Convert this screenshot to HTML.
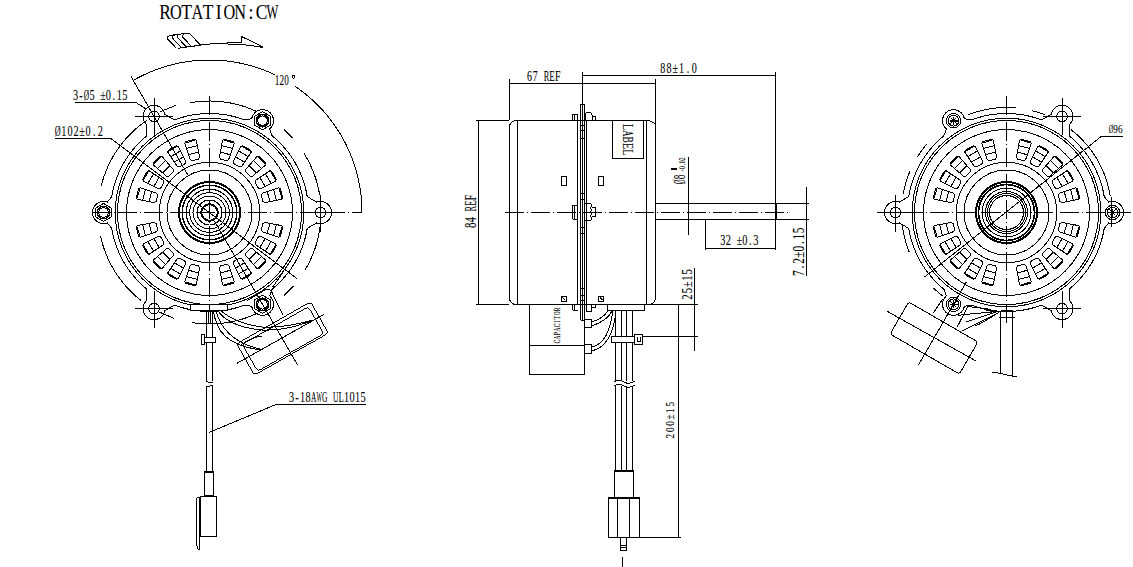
<!DOCTYPE html>
<html><head><meta charset="utf-8"><style>
html,body{margin:0;padding:0;background:#fff;}
svg{display:block;}
</style></head><body>
<svg width="1133" height="567" viewBox="0 0 1133 567">
<rect width="1133" height="567" fill="#fff"/>
<g fill="none" stroke="#000" stroke-width="1" shape-rendering="crispEdges">
<circle cx="209.5" cy="212.5" r="8.3" stroke-width="2"/>
<circle cx="209.5" cy="212.5" r="12.5"/>
<circle cx="209.5" cy="212.5" r="16.5"/>
<circle cx="209.5" cy="212.5" r="19.8"/>
<circle cx="209.5" cy="212.5" r="23.3"/>
<circle cx="209.5" cy="212.5" r="27.3" stroke-width="1.5"/>
<circle cx="209.5" cy="212.5" r="30.5" stroke-width="2"/>
<circle cx="209.5" cy="212.5" r="42.5"/>
<circle cx="209.5" cy="212.5" r="50.2"/>
<circle cx="209.5" cy="212.5" r="83"/>
<circle cx="209.5" cy="212.5" r="92"/>
<circle cx="209.5" cy="212.5" r="94.3"/>
<path d="M220.42 159 L219.36 157.17 L222.6 140.43 L224.44 139.37 L233.13 141.7 L234.19 143.54 L228.63 159.65 L226.79 160.71 Z"/>
<line x1="223.89" y1="140.26" x2="233.16" y2="142.75"/>
<line x1="220.31" y1="152.07" x2="230.35" y2="154.76"/>
<line x1="221.65" y1="145.53" x2="232.47" y2="148.43"/>
<path d="M233.89 163.65 L233.34 161.6 L240.8 146.28 L242.85 145.73 L250.65 150.23 L251.2 152.28 L241.66 166.4 L239.61 166.95 Z"/>
<line x1="242.09" y1="146.45" x2="250.41" y2="151.25"/>
<line x1="235.58" y1="156.93" x2="244.59" y2="162.13"/>
<line x1="238.57" y1="150.95" x2="248.27" y2="156.55"/>
<path d="M245.7 171.63 L245.7 169.51 L256.88 156.64 L259 156.64 L265.36 163 L265.36 165.12 L252.49 176.3 L250.37 176.3 Z"/>
<line x1="258.08" y1="157.13" x2="264.87" y2="163.92"/>
<line x1="249.07" y1="165.57" x2="256.43" y2="172.93"/>
<line x1="253.51" y1="160.57" x2="261.43" y2="168.49"/>
<path d="M255.05 182.39 L255.6 180.34 L269.72 170.8 L271.77 171.35 L276.27 179.15 L275.72 181.2 L260.4 188.66 L258.35 188.11 Z"/>
<line x1="270.75" y1="171.59" x2="275.55" y2="179.91"/>
<line x1="259.87" y1="177.41" x2="265.07" y2="186.42"/>
<line x1="265.45" y1="173.73" x2="271.05" y2="183.43"/>
<path d="M261.29 195.21 L262.35 193.37 L278.46 187.81 L280.3 188.87 L282.63 197.56 L281.57 199.4 L264.83 202.64 L263 201.58 Z"/>
<line x1="279.25" y1="188.84" x2="281.74" y2="198.11"/>
<line x1="267.24" y1="191.65" x2="269.93" y2="201.69"/>
<line x1="273.57" y1="189.53" x2="276.47" y2="200.35"/>
<path d="M263 223.42 L264.83 222.36 L281.57 225.6 L282.63 227.44 L280.3 236.13 L278.46 237.19 L262.35 231.63 L261.29 229.79 Z"/>
<line x1="281.74" y1="226.89" x2="279.25" y2="236.16"/>
<line x1="269.93" y1="223.31" x2="267.24" y2="233.35"/>
<line x1="276.47" y1="224.65" x2="273.57" y2="235.47"/>
<path d="M258.35 236.89 L260.4 236.34 L275.72 243.8 L276.27 245.85 L271.77 253.65 L269.72 254.2 L255.6 244.66 L255.05 242.61 Z"/>
<line x1="275.55" y1="245.09" x2="270.75" y2="253.41"/>
<line x1="265.07" y1="238.58" x2="259.87" y2="247.59"/>
<line x1="271.05" y1="241.57" x2="265.45" y2="251.27"/>
<path d="M250.37 248.7 L252.49 248.7 L265.36 259.88 L265.36 262 L259 268.36 L256.88 268.36 L245.7 255.49 L245.7 253.37 Z"/>
<line x1="264.87" y1="261.08" x2="258.08" y2="267.87"/>
<line x1="256.43" y1="252.07" x2="249.07" y2="259.43"/>
<line x1="261.43" y1="256.51" x2="253.51" y2="264.43"/>
<path d="M239.61 258.05 L241.66 258.6 L251.2 272.72 L250.65 274.77 L242.85 279.27 L240.8 278.72 L233.34 263.4 L233.89 261.35 Z"/>
<line x1="250.41" y1="273.75" x2="242.09" y2="278.55"/>
<line x1="244.59" y1="262.87" x2="235.58" y2="268.07"/>
<line x1="248.27" y1="268.45" x2="238.57" y2="274.05"/>
<path d="M226.79 264.29 L228.63 265.35 L234.19 281.46 L233.13 283.3 L224.44 285.63 L222.6 284.57 L219.36 267.83 L220.42 266 Z"/>
<line x1="233.16" y1="282.25" x2="223.89" y2="284.74"/>
<line x1="230.35" y1="270.24" x2="220.31" y2="272.93"/>
<line x1="232.47" y1="276.57" x2="221.65" y2="279.47"/>
<path d="M198.58 266 L199.64 267.83 L196.4 284.57 L194.56 285.63 L185.87 283.3 L184.81 281.46 L190.37 265.35 L192.21 264.29 Z"/>
<line x1="195.11" y1="284.74" x2="185.84" y2="282.25"/>
<line x1="198.69" y1="272.93" x2="188.65" y2="270.24"/>
<line x1="197.35" y1="279.47" x2="186.53" y2="276.57"/>
<path d="M185.11 261.35 L185.66 263.4 L178.2 278.72 L176.15 279.27 L168.35 274.77 L167.8 272.72 L177.34 258.6 L179.39 258.05 Z"/>
<line x1="176.91" y1="278.55" x2="168.59" y2="273.75"/>
<line x1="183.42" y1="268.07" x2="174.41" y2="262.87"/>
<line x1="180.43" y1="274.05" x2="170.73" y2="268.45"/>
<path d="M173.3 253.37 L173.3 255.49 L162.12 268.36 L160 268.36 L153.64 262 L153.64 259.88 L166.51 248.7 L168.63 248.7 Z"/>
<line x1="160.92" y1="267.87" x2="154.13" y2="261.08"/>
<line x1="169.93" y1="259.43" x2="162.57" y2="252.07"/>
<line x1="165.49" y1="264.43" x2="157.57" y2="256.51"/>
<path d="M163.95 242.61 L163.4 244.66 L149.28 254.2 L147.23 253.65 L142.73 245.85 L143.28 243.8 L158.6 236.34 L160.65 236.89 Z"/>
<line x1="148.25" y1="253.41" x2="143.45" y2="245.09"/>
<line x1="159.13" y1="247.59" x2="153.93" y2="238.58"/>
<line x1="153.55" y1="251.27" x2="147.95" y2="241.57"/>
<path d="M157.71 229.79 L156.65 231.63 L140.54 237.19 L138.7 236.13 L136.37 227.44 L137.43 225.6 L154.17 222.36 L156 223.42 Z"/>
<line x1="139.75" y1="236.16" x2="137.26" y2="226.89"/>
<line x1="151.76" y1="233.35" x2="149.07" y2="223.31"/>
<line x1="145.43" y1="235.47" x2="142.53" y2="224.65"/>
<path d="M156 201.58 L154.17 202.64 L137.43 199.4 L136.37 197.56 L138.7 188.87 L140.54 187.81 L156.65 193.37 L157.71 195.21 Z"/>
<line x1="137.26" y1="198.11" x2="139.75" y2="188.84"/>
<line x1="149.07" y1="201.69" x2="151.76" y2="191.65"/>
<line x1="142.53" y1="200.35" x2="145.43" y2="189.53"/>
<path d="M160.65 188.11 L158.6 188.66 L143.28 181.2 L142.73 179.15 L147.23 171.35 L149.28 170.8 L163.4 180.34 L163.95 182.39 Z"/>
<line x1="143.45" y1="179.91" x2="148.25" y2="171.59"/>
<line x1="153.93" y1="186.42" x2="159.13" y2="177.41"/>
<line x1="147.95" y1="183.43" x2="153.55" y2="173.73"/>
<path d="M168.63 176.3 L166.51 176.3 L153.64 165.12 L153.64 163 L160 156.64 L162.12 156.64 L173.3 169.51 L173.3 171.63 Z"/>
<line x1="154.13" y1="163.92" x2="160.92" y2="157.13"/>
<line x1="162.57" y1="172.93" x2="169.93" y2="165.57"/>
<line x1="157.57" y1="168.49" x2="165.49" y2="160.57"/>
<path d="M179.39 166.95 L177.34 166.4 L167.8 152.28 L168.35 150.23 L176.15 145.73 L178.2 146.28 L185.66 161.6 L185.11 163.65 Z"/>
<line x1="168.59" y1="151.25" x2="176.91" y2="146.45"/>
<line x1="174.41" y1="162.13" x2="183.42" y2="156.93"/>
<line x1="170.73" y1="156.55" x2="180.43" y2="150.95"/>
<path d="M192.21 160.71 L190.37 159.65 L184.81 143.54 L185.87 141.7 L194.56 139.37 L196.4 140.43 L199.64 157.17 L198.58 159 Z"/>
<line x1="185.84" y1="142.75" x2="195.11" y2="140.26"/>
<line x1="188.65" y1="154.76" x2="198.69" y2="152.07"/>
<line x1="186.53" y1="148.43" x2="197.35" y2="145.53"/>
<circle cx="154" cy="116.37" r="5.3"/>
<circle cx="320.5" cy="212.5" r="5.3"/>
<circle cx="154" cy="308.63" r="5.3"/>
<path d="M262.5 111.7 L270.29 116.2 L270.29 125.2 L262.5 129.7 L254.71 125.2 L254.71 116.2 Z"/>
<circle cx="262.5" cy="120.7" r="6.2" stroke-width="1.5"/>
<circle cx="262.5" cy="120.7" r="4.8"/>
<path d="M262.5 295.3 L270.29 299.8 L270.29 308.8 L262.5 313.3 L254.71 308.8 L254.71 299.8 Z"/>
<circle cx="262.5" cy="304.3" r="6.2" stroke-width="1.5"/>
<circle cx="262.5" cy="304.3" r="4.8"/>
<path d="M103.5 203.5 L111.29 208 L111.29 217 L103.5 221.5 L95.71 217 L95.71 208 Z"/>
<circle cx="103.5" cy="212.5" r="6.2" stroke-width="1.5"/>
<circle cx="103.5" cy="212.5" r="4.8"/>
<path d="M174.44 119.92 L177.81 118.71 L181.23 117.62 L184.68 116.66 L188.17 115.83 L191.68 115.12 L195.22 114.54 L198.77 114.08 L202.34 113.76 L205.92 113.56 L209.5 113.5 L213.08 113.56 L216.66 113.76 L220.23 114.08 L223.78 114.54 L227.32 115.12 L230.83 115.83 L234.32 116.66 L237.77 117.62 L241.19 118.71 L244.56 119.92"/>
<path d="M146.85 135.85 L146.93 124.8 L145.68 123.56 L144.64 122.15 L143.84 120.58 L143.3 118.91 L143.03 117.17 L143.04 115.41 L143.33 113.68 L143.9 112.01 L144.72 110.46 L145.78 109.06 L147.05 107.84 L148.5 106.84 L150.09 106.09 L151.78 105.6 L153.52 105.38 L155.28 105.45 L157 105.79 L158.65 106.4 L160.18 107.27 L161.55 108.37 L162.73 109.67 L163.68 111.15 L164.39 112.76 L164.83 114.46 L174.44 119.92"/>
<path d="M272.15 135.85 L274.88 138.16 L277.53 140.58 L280.09 143.09 L282.56 145.69 L284.93 148.38 L287.2 151.15 L289.37 154 L291.43 156.93 L293.39 159.93 L295.24 163 L296.97 166.14 L298.59 169.33 L300.1 172.58 L301.48 175.89 L302.75 179.24 L303.89 182.64 L304.91 186.07 L305.8 189.54 L306.57 193.04 L307.21 196.57"/>
<path d="M244.56 119.92 L251.67 118.79 L252.11 117.09 L252.82 115.48 L253.77 114 L254.95 112.7 L256.32 111.6 L257.85 110.73 L259.5 110.12 L261.22 109.78 L262.98 109.71 L264.72 109.93 L266.41 110.42 L268 111.18 L269.45 112.17 L270.72 113.39 L271.78 114.79 L272.6 116.34 L273.17 118.01 L273.46 119.74 L273.47 121.5 L273.2 123.24 L272.66 124.91 L271.86 126.48 L270.82 127.89 L269.57 129.13 L272.15 135.85"/>
<path d="M307.21 228.43 L306.57 231.96 L305.8 235.46 L304.91 238.93 L303.89 242.36 L302.75 245.76 L301.48 249.11 L300.1 252.42 L298.59 255.67 L296.97 258.86 L295.24 262 L293.39 265.07 L291.43 268.07 L289.37 271 L287.2 273.85 L284.93 276.62 L282.56 279.31 L280.09 281.91 L277.53 284.42 L274.88 286.84 L272.15 289.15"/>
<path d="M307.21 196.57 L316.74 202.16 L318.43 201.7 L320.18 201.5 L321.94 201.59 L323.65 201.96 L325.29 202.6 L326.81 203.49 L328.16 204.61 L329.32 205.93 L330.26 207.42 L330.94 209.04 L331.36 210.75 L331.5 212.5 L331.36 214.25 L330.94 215.96 L330.26 217.58 L329.32 219.07 L328.16 220.39 L326.81 221.51 L325.29 222.4 L323.65 223.04 L321.94 223.41 L320.18 223.5 L318.43 223.3 L316.74 222.84 L307.21 228.43"/>
<path d="M244.56 305.08 L241.19 306.29 L237.77 307.38 L234.32 308.34 L230.83 309.17 L227.32 309.88 L223.78 310.46 L220.23 310.92 L216.66 311.24 L213.08 311.44 L209.5 311.5 L205.92 311.44 L202.34 311.24 L198.77 310.92 L195.22 310.46 L191.68 309.88 L188.17 309.17 L184.68 308.34 L181.23 307.38 L177.81 306.29 L174.44 305.08"/>
<path d="M272.15 289.15 L269.57 295.87 L270.82 297.11 L271.86 298.52 L272.66 300.09 L273.2 301.76 L273.47 303.5 L273.46 305.26 L273.17 306.99 L272.6 308.66 L271.78 310.21 L270.72 311.61 L269.45 312.83 L268 313.82 L266.41 314.58 L264.72 315.07 L262.98 315.29 L261.22 315.22 L259.5 314.88 L257.85 314.27 L256.32 313.4 L254.95 312.3 L253.77 311 L252.82 309.52 L252.11 307.91 L251.67 306.21 L244.56 305.08"/>
<path d="M146.85 289.15 L144.12 286.84 L141.47 284.42 L138.91 281.91 L136.44 279.31 L134.07 276.62 L131.8 273.85 L129.63 271 L127.57 268.07 L125.61 265.07 L123.76 262 L122.03 258.86 L120.41 255.67 L118.9 252.42 L117.52 249.11 L116.25 245.76 L115.11 242.36 L114.09 238.93 L113.2 235.46 L112.43 231.96 L111.79 228.43"/>
<path d="M174.44 305.08 L164.83 310.54 L164.39 312.24 L163.68 313.85 L162.73 315.33 L161.55 316.63 L160.18 317.73 L158.65 318.6 L157 319.21 L155.28 319.55 L153.52 319.62 L151.78 319.4 L150.09 318.91 L148.5 318.16 L147.05 317.16 L145.78 315.94 L144.72 314.54 L143.9 312.99 L143.33 311.32 L143.04 309.59 L143.03 307.83 L143.3 306.09 L143.84 304.42 L144.64 302.85 L145.68 301.44 L146.93 300.2 L146.85 289.15"/>
<path d="M111.79 196.57 L112.43 193.04 L113.2 189.54 L114.09 186.07 L115.11 182.64 L116.25 179.24 L117.52 175.89 L118.9 172.58 L120.41 169.33 L122.03 166.14 L123.76 163 L125.61 159.93 L127.57 156.93 L129.63 154 L131.8 151.15 L134.07 148.38 L136.44 145.69 L138.91 143.09 L141.47 140.58 L144.12 138.16 L146.85 135.85"/>
<path d="M111.79 228.43 L107.26 222.84 L105.57 223.3 L103.82 223.5 L102.06 223.41 L100.35 223.04 L98.71 222.4 L97.19 221.51 L95.84 220.39 L94.68 219.07 L93.74 217.58 L93.06 215.96 L92.64 214.25 L92.5 212.5 L92.64 210.75 L93.06 209.04 L93.74 207.42 L94.68 205.93 L95.84 204.61 L97.19 203.49 L98.71 202.6 L100.35 201.96 L102.06 201.59 L103.82 201.5 L105.57 201.7 L107.26 202.16 L111.79 196.57"/>
<path d="M190.5 304.5 H227.5 V310.5 H190.5 Z" fill="#fff"/>
<line x1="92" y1="212.5" x2="361" y2="212.5" stroke-dasharray="19 3 1 3"/>
<line x1="209.5" y1="96" x2="209.5" y2="310" stroke-dasharray="19 3 1 3"/>
<path d="M190.14 102.69 L194.1 102.07 L198.07 101.59 L202.06 101.25 L206.07 101.05 L210.07 101 L214.08 101.09 L218.08 101.33 L222.07 101.71 L226.04 102.23 L229.99 102.9 L233.91 103.71 L237.81 104.65 L241.66 105.74 L245.48 106.96 L249.24 108.32 L252.96 109.82 L256.62 111.45"/>
<path d="M284.11 129.64 L286.25 131.62 L288.34 133.66 L290.38 135.75 L292.36 137.89"/>
<path d="M304.06 153.41 L306.15 156.9 L308.11 160.47 L309.95 164.1 L311.65 167.8 L313.21 171.55 L314.63 175.36 L315.92 179.22 L317.06 183.13 L318.06 187.07 L318.92 191.05 L319.63 195.06"/>
<path d="M320.17 226.09 L319.63 229.94 L318.95 233.78 L318.14 237.58 L317.2 241.36 L316.13 245.1 L314.93 248.8 L313.59 252.46 L312.14 256.07 L310.55 259.62 L308.85 263.12 L307.02 266.56 L305.07 269.93"/>
<path d="M293.65 285.65 L291.38 288.19 L289.03 290.65 L286.6 293.04 L284.11 295.36"/>
<path d="M256.62 313.55 L253.07 315.14 L249.46 316.59 L245.8 317.93 L242.1 319.13 L238.36 320.2 L234.58 321.14 L230.78 321.95 L226.94 322.63 L223.09 323.17 L219.22 323.58 L215.34 323.85 L211.45 323.98 L207.55 323.98 L203.66 323.85 L199.78 323.58 L195.91 323.17 L192.06 322.63"/>
<path d="M140.85 300.36 L137.83 297.91 L134.89 295.36 L132.05 292.71 L129.29 289.95 L126.64 287.11 L124.09 284.17 L121.64 281.15 L119.29 278.04 L117.06 274.85 L114.94 271.59 L112.94 268.25 L111.05 264.85 L109.28 261.38 L107.64 257.85 L106.12 254.27 L104.72 250.64 L103.46 246.96 L102.32 243.23 L101.31 239.47 L100.44 235.68"/>
<path d="M101.31 185.53 L102.32 181.77 L103.46 178.04 L104.72 174.36 L106.12 170.73 L107.64 167.15 L109.28 163.62 L111.05 160.15 L112.94 156.75 L114.94 153.41 L117.06 150.15 L119.29 146.96 L121.64 143.85 L124.09 140.83 L126.64 137.89 L129.29 135.05 L132.05 132.29 L134.89 129.64 L137.83 127.09 L140.85 124.64 L143.96 122.29 L147.15 120.06"/>
<line x1="135" y1="116.37" x2="173" y2="116.37"/>
<line x1="154" y1="98.37" x2="154" y2="135.37"/>
<line x1="301.5" y1="212.5" x2="339.5" y2="212.5"/>
<line x1="320.5" y1="194.5" x2="320.5" y2="231.5"/>
<line x1="135" y1="308.63" x2="173" y2="308.63"/>
<line x1="154" y1="290.63" x2="154" y2="327.63"/>
<line x1="160" y1="111.7" x2="176" y2="105.3"/>
<line x1="158.4" y1="311.7" x2="174.4" y2="318.5"/>
<line x1="188.5" y1="176.13" x2="131" y2="76.53"/>
<line x1="214.5" y1="221.16" x2="297.5" y2="364.92"/>
<path d="M133.25 80.43 L138.02 77.79 L142.88 75.32 L147.82 73.03 L152.85 70.91 L157.94 68.98 L163.11 67.23 L168.33 65.66 L173.6 64.29 L178.92 63.1 L184.28 62.1 L189.67 61.29 L195.09 60.68 L200.52 60.26 L205.97 60.04 L211.42 60.01 L216.87 60.18 L222.31 60.54 L227.73 61.09 L233.13 61.84 L238.5 62.78 L243.83 63.92 L249.12 65.24 L254.36 66.75 L259.54 68.44 L264.66 70.32 L269.7 72.39 L274.67 74.63"/>
<path d="M295.22 86.37 L299.71 89.54 L304.09 92.88 L308.34 96.37 L312.46 100.01 L316.45 103.79 L320.3 107.72 L324.01 111.78 L327.57 115.98 L330.97 120.3 L334.22 124.74 L337.3 129.29 L340.22 133.96 L342.97 138.72 L345.54 143.58 L347.94 148.53 L350.15 153.57 L352.19 158.68 L354.03 163.86 L355.69 169.1 L357.16 174.4 L358.44 179.75 L359.53 185.15 L360.42 190.57 L361.11 196.03 L361.6 201.51 L361.9 207 L362 212.5"/>
<line x1="110.9" y1="138.5" x2="296.7" y2="278.4"/>
<line x1="55" y1="138.5" x2="110.9" y2="138.5"/>
<line x1="75" y1="102.5" x2="136" y2="102.5"/>
<line x1="136" y1="102.5" x2="146" y2="109"/>
<line x1="206.5" y1="310.5" x2="206.5" y2="381"/>
<line x1="206.5" y1="386" x2="206.5" y2="471"/>
<line x1="212.5" y1="310.5" x2="212.5" y2="381"/>
<line x1="212.5" y1="386" x2="212.5" y2="471"/>
<line x1="208.5" y1="310.5" x2="208.5" y2="322.5"/>
<line x1="210.5" y1="310.5" x2="210.5" y2="322.5"/>
<path d="M204.5 337.5 H215.5 V342.5 H204.5 Z" fill="#fff"/>
<path d="M204.5 471.5 H213.5 V495.5 H204.5 Z"/>
<line x1="204.5" y1="472" x2="213.5" y2="472" stroke-width="2"/>
<path d="M200.5 496.5 H216.5 V536.5 H200.5 Z"/>
<path d="M200 497 Q196.5 497 196.5 500 V540 Q196 545 198.5 550"/>
<line x1="199.5" y1="497" x2="199.5" y2="550"/>
<path d="M206.5 381 L208 382 H212.5"/>
<path d="M206.5 386.5 H209.5 L210.5 385.8 H212.5"/>
<line x1="276" y1="404.5" x2="366" y2="404.5"/>
<line x1="276" y1="404.5" x2="209" y2="432.5"/>
<rect x="240" y="320.5" width="85" height="36" rx="3" transform="rotate(-29.6 282.5 338.5)"/>
<rect x="245" y="323.5" width="76" height="31" rx="3" transform="rotate(-29.6 283 339)"/>
<line x1="237.2" y1="363.2" x2="324.3" y2="314.2"/>
<path d="M213.5 311 C 216 330, 226 346, 262 350"/>
<path d="M216 311 C 220 326, 232 343, 262 349.5"/>
<path d="M218 311 C 226 322, 240 328, 262 330 C 285 331, 300 325, 314 320"/>
<path d="M221 311 C 232 320, 246 325, 262 327 C 285 328, 300 323, 314 320"/>
<path d="M241 345 C 247 340, 255 337, 262 336"/>
<path d="M247.3 300.4 L265 290 Q268 288.5 271 290.5 L282.8 314.6"/>
<path d="M272.6 287.2 L283.8 271"/>
<path d="M201.5 334.5 H204.5 V344.5 H201.5 Z" fill="#fff"/>
<circle cx="1006.5" cy="212.5" r="17"/>
<circle cx="1006.5" cy="212.5" r="19"/>
<circle cx="1006.5" cy="212.5" r="21"/>
<circle cx="1006.5" cy="212.5" r="24.5"/>
<circle cx="1006.5" cy="212.5" r="28" stroke-width="1.6"/>
<circle cx="1006.5" cy="212.5" r="30.5" stroke-width="2"/>
<circle cx="1006.5" cy="212.5" r="42.5"/>
<circle cx="1006.5" cy="212.5" r="50.2"/>
<circle cx="1006.5" cy="212.5" r="83"/>
<circle cx="1006.5" cy="212.5" r="92"/>
<circle cx="1006.5" cy="212.5" r="94.3"/>
<path d="M995.58 159 L996.64 157.17 L993.4 140.43 L991.56 139.37 L982.87 141.7 L981.81 143.54 L987.37 159.65 L989.21 160.71 Z"/>
<line x1="992.11" y1="140.26" x2="982.84" y2="142.75"/>
<line x1="995.69" y1="152.07" x2="985.65" y2="154.76"/>
<line x1="994.35" y1="145.53" x2="983.53" y2="148.43"/>
<path d="M982.11 163.65 L982.66 161.6 L975.2 146.28 L973.15 145.73 L965.35 150.23 L964.8 152.28 L974.34 166.4 L976.39 166.95 Z"/>
<line x1="973.91" y1="146.45" x2="965.59" y2="151.25"/>
<line x1="980.42" y1="156.93" x2="971.41" y2="162.13"/>
<line x1="977.43" y1="150.95" x2="967.73" y2="156.55"/>
<path d="M970.3 171.63 L970.3 169.51 L959.12 156.64 L957 156.64 L950.64 163 L950.64 165.12 L963.51 176.3 L965.63 176.3 Z"/>
<line x1="957.92" y1="157.13" x2="951.13" y2="163.92"/>
<line x1="966.93" y1="165.57" x2="959.57" y2="172.93"/>
<line x1="962.49" y1="160.57" x2="954.57" y2="168.49"/>
<path d="M960.95 182.39 L960.4 180.34 L946.28 170.8 L944.23 171.35 L939.73 179.15 L940.28 181.2 L955.6 188.66 L957.65 188.11 Z"/>
<line x1="945.25" y1="171.59" x2="940.45" y2="179.91"/>
<line x1="956.13" y1="177.41" x2="950.93" y2="186.42"/>
<line x1="950.55" y1="173.73" x2="944.95" y2="183.43"/>
<path d="M954.71 195.21 L953.65 193.37 L937.54 187.81 L935.7 188.87 L933.37 197.56 L934.43 199.4 L951.17 202.64 L953 201.58 Z"/>
<line x1="936.75" y1="188.84" x2="934.26" y2="198.11"/>
<line x1="948.76" y1="191.65" x2="946.07" y2="201.69"/>
<line x1="942.43" y1="189.53" x2="939.53" y2="200.35"/>
<path d="M953 223.42 L951.17 222.36 L934.43 225.6 L933.37 227.44 L935.7 236.13 L937.54 237.19 L953.65 231.63 L954.71 229.79 Z"/>
<line x1="934.26" y1="226.89" x2="936.75" y2="236.16"/>
<line x1="946.07" y1="223.31" x2="948.76" y2="233.35"/>
<line x1="939.53" y1="224.65" x2="942.43" y2="235.47"/>
<path d="M957.65 236.89 L955.6 236.34 L940.28 243.8 L939.73 245.85 L944.23 253.65 L946.28 254.2 L960.4 244.66 L960.95 242.61 Z"/>
<line x1="940.45" y1="245.09" x2="945.25" y2="253.41"/>
<line x1="950.93" y1="238.58" x2="956.13" y2="247.59"/>
<line x1="944.95" y1="241.57" x2="950.55" y2="251.27"/>
<path d="M965.63 248.7 L963.51 248.7 L950.64 259.88 L950.64 262 L957 268.36 L959.12 268.36 L970.3 255.49 L970.3 253.37 Z"/>
<line x1="951.13" y1="261.08" x2="957.92" y2="267.87"/>
<line x1="959.57" y1="252.07" x2="966.93" y2="259.43"/>
<line x1="954.57" y1="256.51" x2="962.49" y2="264.43"/>
<path d="M976.39 258.05 L974.34 258.6 L964.8 272.72 L965.35 274.77 L973.15 279.27 L975.2 278.72 L982.66 263.4 L982.11 261.35 Z"/>
<line x1="965.59" y1="273.75" x2="973.91" y2="278.55"/>
<line x1="971.41" y1="262.87" x2="980.42" y2="268.07"/>
<line x1="967.73" y1="268.45" x2="977.43" y2="274.05"/>
<path d="M989.21 264.29 L987.37 265.35 L981.81 281.46 L982.87 283.3 L991.56 285.63 L993.4 284.57 L996.64 267.83 L995.58 266 Z"/>
<line x1="982.84" y1="282.25" x2="992.11" y2="284.74"/>
<line x1="985.65" y1="270.24" x2="995.69" y2="272.93"/>
<line x1="983.53" y1="276.57" x2="994.35" y2="279.47"/>
<path d="M1017.42 266 L1016.36 267.83 L1019.6 284.57 L1021.44 285.63 L1030.13 283.3 L1031.19 281.46 L1025.63 265.35 L1023.79 264.29 Z"/>
<line x1="1020.89" y1="284.74" x2="1030.16" y2="282.25"/>
<line x1="1017.31" y1="272.93" x2="1027.35" y2="270.24"/>
<line x1="1018.65" y1="279.47" x2="1029.47" y2="276.57"/>
<path d="M1030.89 261.35 L1030.34 263.4 L1037.8 278.72 L1039.85 279.27 L1047.65 274.77 L1048.2 272.72 L1038.66 258.6 L1036.61 258.05 Z"/>
<line x1="1039.09" y1="278.55" x2="1047.41" y2="273.75"/>
<line x1="1032.58" y1="268.07" x2="1041.59" y2="262.87"/>
<line x1="1035.57" y1="274.05" x2="1045.27" y2="268.45"/>
<path d="M1042.7 253.37 L1042.7 255.49 L1053.88 268.36 L1056 268.36 L1062.36 262 L1062.36 259.88 L1049.49 248.7 L1047.37 248.7 Z"/>
<line x1="1055.08" y1="267.87" x2="1061.87" y2="261.08"/>
<line x1="1046.07" y1="259.43" x2="1053.43" y2="252.07"/>
<line x1="1050.51" y1="264.43" x2="1058.43" y2="256.51"/>
<path d="M1052.05 242.61 L1052.6 244.66 L1066.72 254.2 L1068.77 253.65 L1073.27 245.85 L1072.72 243.8 L1057.4 236.34 L1055.35 236.89 Z"/>
<line x1="1067.75" y1="253.41" x2="1072.55" y2="245.09"/>
<line x1="1056.87" y1="247.59" x2="1062.07" y2="238.58"/>
<line x1="1062.45" y1="251.27" x2="1068.05" y2="241.57"/>
<path d="M1058.29 229.79 L1059.35 231.63 L1075.46 237.19 L1077.3 236.13 L1079.63 227.44 L1078.57 225.6 L1061.83 222.36 L1060 223.42 Z"/>
<line x1="1076.25" y1="236.16" x2="1078.74" y2="226.89"/>
<line x1="1064.24" y1="233.35" x2="1066.93" y2="223.31"/>
<line x1="1070.57" y1="235.47" x2="1073.47" y2="224.65"/>
<path d="M1060 201.58 L1061.83 202.64 L1078.57 199.4 L1079.63 197.56 L1077.3 188.87 L1075.46 187.81 L1059.35 193.37 L1058.29 195.21 Z"/>
<line x1="1078.74" y1="198.11" x2="1076.25" y2="188.84"/>
<line x1="1066.93" y1="201.69" x2="1064.24" y2="191.65"/>
<line x1="1073.47" y1="200.35" x2="1070.57" y2="189.53"/>
<path d="M1055.35 188.11 L1057.4 188.66 L1072.72 181.2 L1073.27 179.15 L1068.77 171.35 L1066.72 170.8 L1052.6 180.34 L1052.05 182.39 Z"/>
<line x1="1072.55" y1="179.91" x2="1067.75" y2="171.59"/>
<line x1="1062.07" y1="186.42" x2="1056.87" y2="177.41"/>
<line x1="1068.05" y1="183.43" x2="1062.45" y2="173.73"/>
<path d="M1047.37 176.3 L1049.49 176.3 L1062.36 165.12 L1062.36 163 L1056 156.64 L1053.88 156.64 L1042.7 169.51 L1042.7 171.63 Z"/>
<line x1="1061.87" y1="163.92" x2="1055.08" y2="157.13"/>
<line x1="1053.43" y1="172.93" x2="1046.07" y2="165.57"/>
<line x1="1058.43" y1="168.49" x2="1050.51" y2="160.57"/>
<path d="M1036.61 166.95 L1038.66 166.4 L1048.2 152.28 L1047.65 150.23 L1039.85 145.73 L1037.8 146.28 L1030.34 161.6 L1030.89 163.65 Z"/>
<line x1="1047.41" y1="151.25" x2="1039.09" y2="146.45"/>
<line x1="1041.59" y1="162.13" x2="1032.58" y2="156.93"/>
<line x1="1045.27" y1="156.55" x2="1035.57" y2="150.95"/>
<path d="M1023.79 160.71 L1025.63 159.65 L1031.19 143.54 L1030.13 141.7 L1021.44 139.37 L1019.6 140.43 L1016.36 157.17 L1017.42 159 Z"/>
<line x1="1030.16" y1="142.75" x2="1020.89" y2="140.26"/>
<line x1="1027.35" y1="154.76" x2="1017.31" y2="152.07"/>
<line x1="1029.47" y1="148.43" x2="1018.65" y2="145.53"/>
<circle cx="1062" cy="116.37" r="5.3"/>
<circle cx="895.5" cy="212.5" r="5.3"/>
<circle cx="1062" cy="308.63" r="5.3"/>
<circle cx="953.5" cy="120.7" r="7.2"/>
<circle cx="953.5" cy="120.7" r="5.4"/>
<line x1="949.5" y1="120.7" x2="957.5" y2="120.7" stroke-width="1.6"/>
<line x1="953.5" y1="116.7" x2="953.5" y2="124.7" stroke-width="1.6"/>
<line x1="950.5" y1="117.7" x2="956.5" y2="123.7"/>
<line x1="950.5" y1="123.7" x2="956.5" y2="117.7"/>
<circle cx="953.5" cy="304.3" r="7.2"/>
<circle cx="953.5" cy="304.3" r="5.4"/>
<line x1="949.5" y1="304.3" x2="957.5" y2="304.3" stroke-width="1.6"/>
<line x1="953.5" y1="300.3" x2="953.5" y2="308.3" stroke-width="1.6"/>
<line x1="950.5" y1="301.3" x2="956.5" y2="307.3"/>
<line x1="950.5" y1="307.3" x2="956.5" y2="301.3"/>
<circle cx="1112.5" cy="212.5" r="7.2"/>
<circle cx="1112.5" cy="212.5" r="5.4"/>
<line x1="1108.5" y1="212.5" x2="1116.5" y2="212.5" stroke-width="1.6"/>
<line x1="1112.5" y1="208.5" x2="1112.5" y2="216.5" stroke-width="1.6"/>
<line x1="1109.5" y1="209.5" x2="1115.5" y2="215.5"/>
<line x1="1109.5" y1="215.5" x2="1115.5" y2="209.5"/>
<path d="M1041.56 119.92 L1038.19 118.71 L1034.77 117.62 L1031.32 116.66 L1027.83 115.83 L1024.32 115.12 L1020.78 114.54 L1017.23 114.08 L1013.66 113.76 L1010.08 113.56 L1006.5 113.5 L1002.92 113.56 L999.34 113.76 L995.77 114.08 L992.22 114.54 L988.68 115.12 L985.17 115.83 L981.68 116.66 L978.23 117.62 L974.81 118.71 L971.44 119.92"/>
<path d="M1069.15 135.85 L1069.07 124.8 L1070.32 123.56 L1071.36 122.15 L1072.16 120.58 L1072.7 118.91 L1072.97 117.17 L1072.96 115.41 L1072.67 113.68 L1072.1 112.01 L1071.28 110.46 L1070.22 109.06 L1068.95 107.84 L1067.5 106.84 L1065.91 106.09 L1064.22 105.6 L1062.48 105.38 L1060.72 105.45 L1059 105.79 L1057.35 106.4 L1055.82 107.27 L1054.45 108.37 L1053.27 109.67 L1052.32 111.15 L1051.61 112.76 L1051.17 114.46 L1041.56 119.92"/>
<path d="M943.85 135.85 L941.12 138.16 L938.47 140.58 L935.91 143.09 L933.44 145.69 L931.07 148.38 L928.8 151.15 L926.63 154 L924.57 156.93 L922.61 159.93 L920.76 163 L919.03 166.14 L917.41 169.33 L915.9 172.58 L914.52 175.89 L913.25 179.24 L912.11 182.64 L911.09 186.07 L910.2 189.54 L909.43 193.04 L908.79 196.57"/>
<path d="M971.44 119.92 L964.33 118.79 L963.89 117.09 L963.18 115.48 L962.23 114 L961.05 112.7 L959.68 111.6 L958.15 110.73 L956.5 110.12 L954.78 109.78 L953.02 109.71 L951.28 109.93 L949.59 110.42 L948 111.18 L946.55 112.17 L945.28 113.39 L944.22 114.79 L943.4 116.34 L942.83 118.01 L942.54 119.74 L942.53 121.5 L942.8 123.24 L943.34 124.91 L944.14 126.48 L945.18 127.89 L946.43 129.13 L943.85 135.85"/>
<path d="M908.79 228.43 L909.43 231.96 L910.2 235.46 L911.09 238.93 L912.11 242.36 L913.25 245.76 L914.52 249.11 L915.9 252.42 L917.41 255.67 L919.03 258.86 L920.76 262 L922.61 265.07 L924.57 268.07 L926.63 271 L928.8 273.85 L931.07 276.62 L933.44 279.31 L935.91 281.91 L938.47 284.42 L941.12 286.84 L943.85 289.15"/>
<path d="M908.79 196.57 L899.26 202.16 L897.57 201.7 L895.82 201.5 L894.06 201.59 L892.35 201.96 L890.71 202.6 L889.19 203.49 L887.84 204.61 L886.68 205.93 L885.74 207.42 L885.06 209.04 L884.64 210.75 L884.5 212.5 L884.64 214.25 L885.06 215.96 L885.74 217.58 L886.68 219.07 L887.84 220.39 L889.19 221.51 L890.71 222.4 L892.35 223.04 L894.06 223.41 L895.82 223.5 L897.57 223.3 L899.26 222.84 L908.79 228.43"/>
<path d="M971.44 305.08 L974.81 306.29 L978.23 307.38 L981.68 308.34 L985.17 309.17 L988.68 309.88 L992.22 310.46 L995.77 310.92 L999.34 311.24 L1002.92 311.44 L1006.5 311.5 L1010.08 311.44 L1013.66 311.24 L1017.23 310.92 L1020.78 310.46 L1024.32 309.88 L1027.83 309.17 L1031.32 308.34 L1034.77 307.38 L1038.19 306.29 L1041.56 305.08"/>
<path d="M943.85 289.15 L946.43 295.87 L945.18 297.11 L944.14 298.52 L943.34 300.09 L942.8 301.76 L942.53 303.5 L942.54 305.26 L942.83 306.99 L943.4 308.66 L944.22 310.21 L945.28 311.61 L946.55 312.83 L948 313.82 L949.59 314.58 L951.28 315.07 L953.02 315.29 L954.78 315.22 L956.5 314.88 L958.15 314.27 L959.68 313.4 L961.05 312.3 L962.23 311 L963.18 309.52 L963.89 307.91 L964.33 306.21 L971.44 305.08"/>
<path d="M1069.15 289.15 L1071.88 286.84 L1074.53 284.42 L1077.09 281.91 L1079.56 279.31 L1081.93 276.62 L1084.2 273.85 L1086.37 271 L1088.43 268.07 L1090.39 265.07 L1092.24 262 L1093.97 258.86 L1095.59 255.67 L1097.1 252.42 L1098.48 249.11 L1099.75 245.76 L1100.89 242.36 L1101.91 238.93 L1102.8 235.46 L1103.57 231.96 L1104.21 228.43"/>
<path d="M1041.56 305.08 L1051.17 310.54 L1051.61 312.24 L1052.32 313.85 L1053.27 315.33 L1054.45 316.63 L1055.82 317.73 L1057.35 318.6 L1059 319.21 L1060.72 319.55 L1062.48 319.62 L1064.22 319.4 L1065.91 318.91 L1067.5 318.16 L1068.95 317.16 L1070.22 315.94 L1071.28 314.54 L1072.1 312.99 L1072.67 311.32 L1072.96 309.59 L1072.97 307.83 L1072.7 306.09 L1072.16 304.42 L1071.36 302.85 L1070.32 301.44 L1069.07 300.2 L1069.15 289.15"/>
<path d="M1104.21 196.57 L1103.57 193.04 L1102.8 189.54 L1101.91 186.07 L1100.89 182.64 L1099.75 179.24 L1098.48 175.89 L1097.1 172.58 L1095.59 169.33 L1093.97 166.14 L1092.24 163 L1090.39 159.93 L1088.43 156.93 L1086.37 154 L1084.2 151.15 L1081.93 148.38 L1079.56 145.69 L1077.09 143.09 L1074.53 140.58 L1071.88 138.16 L1069.15 135.85"/>
<path d="M1104.21 228.43 L1108.74 222.84 L1110.43 223.3 L1112.18 223.5 L1113.94 223.41 L1115.65 223.04 L1117.29 222.4 L1118.81 221.51 L1120.16 220.39 L1121.32 219.07 L1122.26 217.58 L1122.94 215.96 L1123.36 214.25 L1123.5 212.5 L1123.36 210.75 L1122.94 209.04 L1122.26 207.42 L1121.32 205.93 L1120.16 204.61 L1118.81 203.49 L1117.29 202.6 L1115.65 201.96 L1113.94 201.59 L1112.18 201.5 L1110.43 201.7 L1108.74 202.16 L1104.21 196.57"/>
<line x1="878" y1="212.5" x2="1133" y2="212.5" stroke-dasharray="19 3 1 3"/>
<line x1="1006.5" y1="96" x2="1006.5" y2="324" stroke-dasharray="19 3 1 3"/>
<path d="M1045.15 114.87 L1041.98 113.68 L1038.77 112.58 L1035.53 111.59 L1032.26 110.71"/>
<path d="M1015.65 107.9 L1011.9 107.64 L1008.14 107.51 L1004.37 107.52 L1000.61 107.67 L996.86 107.94 L993.12 108.36 L989.39 108.9 L985.69 109.58 L982.02 110.39 L978.37 111.34 L974.76 112.41 L971.2 113.61 L967.68 114.94"/>
<path d="M927.26 143.61 L924.61 146.78 L922.1 150.04 L919.71 153.41 L917.45 156.86"/>
<path d="M909.85 171.47 L908.37 175.16 L907.02 178.89 L905.82 182.68 L904.77 186.51 L903.86 190.37 L903.1 194.27"/>
<path d="M902.28 225.3 L902.83 229.18 L903.53 233.05 L904.37 236.88 L905.35 240.69 L906.48 244.45 L907.74 248.17 L909.15 251.83"/>
<path d="M933.56 288.03 L935.9 290.22 L938.31 292.34 L940.78 294.39 L943.31 296.36"/>
<path d="M1110.21 196.07 L1109.55 192.38 L1108.77 188.71 L1107.85 185.07 L1106.81 181.47 L1105.64 177.9 L1104.34 174.38 L1102.91 170.91 L1101.37 167.49 L1099.7 164.13 L1097.91 160.83 L1096 157.6 L1093.99 154.44 L1091.86 151.35 L1089.62 148.34 L1087.27 145.41 L1084.82 142.57 L1082.27 139.81 L1079.63 137.15 L1076.89 134.59 L1074.06 132.12 L1071.14 129.76"/>
<line x1="1043" y1="116.37" x2="1081" y2="116.37"/>
<line x1="1062" y1="98.37" x2="1062" y2="135.37"/>
<line x1="876.5" y1="212.5" x2="914.5" y2="212.5"/>
<line x1="895.5" y1="194.5" x2="895.5" y2="231.5"/>
<line x1="1043" y1="308.63" x2="1081" y2="308.63"/>
<line x1="1062" y1="290.63" x2="1062" y2="327.63"/>
<line x1="1111.5" y1="197" x2="1111.5" y2="227"/>
<line x1="1101.2" y1="136.5" x2="924.7" y2="276.8"/>
<line x1="1101.2" y1="136.5" x2="1123.4" y2="136.5"/>
<line x1="966.5" y1="281.78" x2="918.5" y2="364.92"/>
<rect x="894" y="319.5" width="80" height="37" rx="3" transform="rotate(30 934 338)"/>
<line x1="887.5" y1="311.5" x2="976" y2="361"/>
<line x1="1000.5" y1="311" x2="1000.5" y2="373.5"/>
<line x1="1012.5" y1="311" x2="1012.5" y2="377"/>
<line x1="1000.5" y1="310.8" x2="1012.5" y2="310.8"/>
<line x1="999" y1="317" x2="1015" y2="317"/>
<path d="M991.5 372.5 Q996 372.5 1000.5 373.5 L1016.5 377"/>
<line x1="933.5" y1="312.6" x2="943.2" y2="298.5"/>
<line x1="957.3" y1="326.7" x2="967.9" y2="306.5"/>
<path d="M967.9 306.5 L988.2 309.1 L994.4 310.9"/>
<path d="M958 315.3 C 970 314, 985 312.5, 999 311.5"/>
<path d="M961.7 331.1 C 975 325, 988 318, 999 312.6"/>
<path d="M966 322 C 978 318, 990 314, 998 311.2"/>
<path d="M975 326 C 985 322, 993 316, 1000 311.5"/>
<line x1="986" y1="309.5" x2="992" y2="311" stroke-width="2"/>
<path d="M509.5 128 Q509.5 120.5 517 120.5 H649.5 L655.5 124 V297 Q655.5 304.5 648 304.5 H517 Q509.5 304.5 509.5 297 Z"/>
<line x1="517.5" y1="120.5" x2="517.5" y2="304.5"/>
<line x1="646.5" y1="120.5" x2="646.5" y2="304.5"/>
<line x1="476" y1="120.5" x2="509" y2="120.5"/>
<line x1="476" y1="304.5" x2="509" y2="304.5"/>
<line x1="478.5" y1="121" x2="478.5" y2="304"/>
<line x1="509.5" y1="79" x2="509.5" y2="120"/>
<line x1="509.5" y1="83.5" x2="655.5" y2="83.5"/>
<line x1="655.5" y1="79" x2="655.5" y2="124"/>
<line x1="582.5" y1="72" x2="582.5" y2="104"/>
<line x1="582.5" y1="75.5" x2="775.5" y2="75.5"/>
<line x1="775.5" y1="72" x2="775.5" y2="203"/>
<path d="M580.5 104.5 H584.5 V318 Q584.5 320.5 582.5 320.5 Q580.5 320.5 580.5 318 Z"/>
<line x1="577.5" y1="120" x2="577.5" y2="304.5"/>
<line x1="586.5" y1="120" x2="586.5" y2="304.5"/>
<line x1="582.5" y1="104.5" x2="582.5" y2="320"/>
<path d="M572.5 120.5 V114.5 H577.5 V120.5"/>
<line x1="574.5" y1="114.5" x2="574.5" y2="120.5"/>
<path d="M585 120.5 V115 Q585 112.5 588 112.5 H589.5 Q592 112.5 592 115 V120.5"/>
<path d="M592 116.5 H595.5 V120.5"/>
<path d="M577.5 205 H574 Q572.5 205 572.5 207 V217.5 Q572.5 219.5 574 219.5 H577.5"/>
<line x1="574.8" y1="205" x2="574.8" y2="219.5"/>
<path d="M585 203.5 H589.5 Q591.5 203.5 591.5 206 Q590 208 591.5 210 Q590 212 591.5 214 Q590 216 591.5 218 Q591.5 220.5 589.5 220.5 H585"/>
<path d="M591.5 207.5 H595.5 V216.5 H591.5"/>
<path d="M572.5 304.5 V308 Q572.5 310.5 575 310.5 H577.5"/>
<line x1="574.8" y1="304.5" x2="574.8" y2="310.5"/>
<path d="M586.5 304.5 V311 H591.5 V304.5"/>
<path d="M591.5 307.5 H595.5 V304.5"/>
<line x1="580.5" y1="125.5" x2="584.5" y2="125.5"/>
<line x1="580.5" y1="130.5" x2="584.5" y2="130.5"/>
<line x1="580.5" y1="138" x2="584.5" y2="138"/>
<line x1="580.5" y1="193.5" x2="584.5" y2="193.5"/>
<line x1="580.5" y1="199" x2="584.5" y2="199"/>
<line x1="580.5" y1="227" x2="584.5" y2="227"/>
<line x1="580.5" y1="233" x2="584.5" y2="233"/>
<line x1="580.5" y1="288.5" x2="584.5" y2="288.5"/>
<line x1="580.5" y1="295" x2="584.5" y2="295"/>
<line x1="580.5" y1="300.5" x2="584.5" y2="300.5"/>
<path d="M561.0 176.0 h5 v9 h-5 Z"/>
<path d="M598.5 176.0 h5 v9 h-5 Z"/>
<path d="M561.0 296.0 h5 v5 h-5 Z"/>
<line x1="562.5" y1="297.5" x2="565" y2="300"/>
<path d="M598.5 296.0 h5 v5 h-5 Z"/>
<line x1="600" y1="297.5" x2="602.5" y2="300"/>
<path d="M612.5 120.5 V158.5 H643.5 V120.5"/>
<line x1="655.5" y1="203.5" x2="809" y2="203.5"/>
<line x1="655.5" y1="219.5" x2="809" y2="219.5"/>
<line x1="775.5" y1="203" x2="775.5" y2="220" stroke-width="2"/>
<line x1="775.5" y1="220" x2="775.5" y2="250"/>
<line x1="505" y1="212.5" x2="788" y2="212.5" stroke-dasharray="19 3 1 3"/>
<line x1="688.5" y1="157" x2="688.5" y2="235"/>
<line x1="705.5" y1="220" x2="705.5" y2="250"/>
<line x1="705.5" y1="248.5" x2="775.5" y2="248.5"/>
<line x1="806.5" y1="187" x2="806.5" y2="276"/>
<line x1="648" y1="304.5" x2="697.5" y2="304.5"/>
<line x1="694.5" y1="268" x2="694.5" y2="351"/>
<line x1="642" y1="336.5" x2="697.5" y2="336.5"/>
<path d="M529.5 304.5 V374.5 H584.5 V304.5"/>
<line x1="529.5" y1="345.5" x2="584.5" y2="345.5"/>
<path d="M584.5 319.5 H591.5 V327.5 H584.5"/>
<path d="M584.5 344.5 H591.5 V353.5 H584.5"/>
<path d="M591 322 C 600 320, 605 315, 608 311"/>
<path d="M591 326 C 605 322, 610 315, 612 311"/>
<path d="M591 347 C 605 345, 610 330, 613 311"/>
<path d="M591 351 C 608 348, 614 330, 616 311"/>
<path d="M607.5 304.5 H644.5 V310.5 H607.5 Z"/>
<line x1="615.5" y1="311" x2="615.5" y2="381"/>
<line x1="615.5" y1="386" x2="615.5" y2="471"/>
<line x1="621" y1="311" x2="621" y2="381"/>
<line x1="621" y1="386" x2="621" y2="471"/>
<line x1="626.5" y1="311" x2="626.5" y2="381"/>
<line x1="626.5" y1="386" x2="626.5" y2="471"/>
<line x1="632" y1="311" x2="632" y2="381"/>
<line x1="632" y1="386" x2="632" y2="471"/>
<path d="M614 382 Q619 379 624 382 Q629 385 635 381"/>
<path d="M614 386 Q619 383 624 386 Q629 389 635 385"/>
<path d="M611.5 336.5 H634.5 V342.5 H611.5 Z" fill="#fff"/>
<path d="M634.5 334.5 H642.5 V344.5 H634.5 Z" fill="#fff"/>
<path d="M637 337 V341.5 H640 V337"/>
<path d="M614.5 470.5 H633.5 V497.5 H614.5 Z"/>
<line x1="614.5" y1="471" x2="633.5" y2="471" stroke-width="2"/>
<line x1="608.5" y1="498" x2="639.5" y2="498" stroke-width="2"/>
<line x1="620.5" y1="545.5" x2="626.5" y2="545.5"/>
<line x1="620.5" y1="547.5" x2="626.5" y2="547.5"/>
<path d="M608.5 497.5 H639.5 V537.5 H608.5 Z"/>
<line x1="617.5" y1="498" x2="617.5" y2="537"/>
<line x1="629.5" y1="498" x2="629.5" y2="537"/>
<path d="M620.5 537.5 V550.5 H626.5 V537.5"/>
<line x1="622.5" y1="557" x2="622.5" y2="567"/>
<line x1="678.5" y1="305" x2="678.5" y2="537"/>
<line x1="640" y1="537.5" x2="681" y2="537.5"/>
<path d="M170.5 35.5 Q167.2 35.9 167.4 38.7 L176.5 48.3"/>
<path d="M175.5 34.8 Q172.2 35.199999999999996 172.4 38.0 L181.5 47.7"/>
<path d="M180.5 34.2 Q177.2 34.6 177.4 37.400000000000006 L186.5 47.1"/>
<path d="M185.5 33.6 Q182.2 34.0 182.4 36.800000000000004 L191.5 46.4"/>
<path d="M189.5 33.5 L200.5 45"/>
<path d="M169 35.8 L174 34.9 L179 34.3 L184 33.7 L189.5 33.3"/>
<path d="M177.5 48.3 L200.5 45.2"/>
<path d="M200.5 45 L210 44 L220 43.2 L242 42.6"/>
<path d="M220 43.9 L242 44.2"/>
<path d="M241.5 36.5 V42.5 M241.5 36.5 L263.5 47.2 L246 45 L242 44.5"/>
<line x1="258" y1="46.5" x2="263.5" y2="47.3" stroke-width="1.5"/>
<g transform="translate(159.8 18.8)" font-family="Liberation Serif" font-size="20.3" fill="#000" stroke="#000" stroke-width="0.1"><text fill="#000" transform="translate(-0.46 0) scale(0.86 1)" x="0" y="0">R</text><text fill="#000" transform="translate(10.18 0) scale(0.8 1)" x="0" y="0">O</text><text fill="#000" transform="translate(21.46 0) scale(0.86 1)" x="0" y="0">T</text><text fill="#000" transform="translate(31.62 0) scale(0.8 1)" x="0" y="0">A</text><text fill="#000" transform="translate(42.9 0) scale(0.86 1)" x="0" y="0">T</text><text fill="#000" transform="translate(56.04 0) scale(0.86 1)" x="0" y="0">I</text><text fill="#000" transform="translate(63.77 0) scale(0.8 1)" x="0" y="0">O</text><text fill="#000" transform="translate(74.49 0) scale(0.8 1)" x="0" y="0">N</text><text fill="#000" transform="translate(88.68 0) scale(0.86 1)" x="0" y="0">:</text><text fill="#000" transform="translate(96 0) scale(0.86 1)" x="0" y="0">C</text><text fill="#000" transform="translate(106.65 0) scale(0.62 1)" x="0" y="0">W</text></g>
<g transform="translate(72.8 100)" font-family="Liberation Serif" font-size="14.7" fill="#000" stroke="#000" stroke-width="0.1"><text fill="#000" transform="translate(0.17 0) scale(0.7 1)" x="0" y="0">3</text><text fill="#000" transform="translate(6.51 0) scale(0.7 1)" x="0" y="0">-</text><text fill="#000" transform="translate(11.01 0) scale(0.51 1)" x="0" y="0">Ø</text><text fill="#000" transform="translate(16.61 0) scale(0.7 1)" x="0" y="0">5</text><text fill="#000" transform="translate(27.45 0) scale(0.67 1)" x="0" y="0">±</text><text fill="#000" transform="translate(33.05 0) scale(0.7 1)" x="0" y="0">0</text><text fill="#000" transform="translate(39.81 0) scale(0.7 1)" x="0" y="0">.</text><text fill="#000" transform="translate(44.01 0) scale(0.7 1)" x="0" y="0">1</text><text fill="#000" transform="translate(49.49 0) scale(0.7 1)" x="0" y="0">5</text></g>
<g transform="translate(54.8 135.9)" font-family="Liberation Serif" font-size="14.7" fill="#000" stroke="#000" stroke-width="0.1"><text fill="#000" transform="translate(0.06 0) scale(0.56 1)" x="0" y="0">Ø</text><text fill="#000" transform="translate(6.52 0) scale(0.7 1)" x="0" y="0">1</text><text fill="#000" transform="translate(12.58 0) scale(0.7 1)" x="0" y="0">0</text><text fill="#000" transform="translate(18.65 0) scale(0.7 1)" x="0" y="0">2</text><text fill="#000" transform="translate(24.46 0) scale(0.7 1)" x="0" y="0">±</text><text fill="#000" transform="translate(30.77 0) scale(0.7 1)" x="0" y="0">0</text><text fill="#000" transform="translate(38.12 0) scale(0.7 1)" x="0" y="0">.</text><text fill="#000" transform="translate(42.9 0) scale(0.7 1)" x="0" y="0">2</text></g>
<g transform="translate(274.8 85)" font-family="Liberation Serif" font-size="15.45" fill="#000" stroke="#000" stroke-width="0.1"><text fill="#000" transform="translate(0.05 0) scale(0.59 1)" x="0" y="0">1</text><text fill="#000" transform="translate(4.71 0) scale(0.59 1)" x="0" y="0">2</text><text fill="#000" transform="translate(9.38 0) scale(0.59 1)" x="0" y="0">0</text></g>
<circle cx="293.5" cy="76.8" r="1.5"/>
<g transform="translate(288.8 401.8)" font-family="Liberation Serif" font-size="14.7" fill="#000" stroke="#000" stroke-width="0.1"><text fill="#000" transform="translate(0.18 0) scale(0.7 1)" x="0" y="0">3</text><text fill="#000" transform="translate(6.55 0) scale(0.7 1)" x="0" y="0">-</text><text fill="#000" transform="translate(11.2 0) scale(0.7 1)" x="0" y="0">1</text><text fill="#000" transform="translate(16.7 0) scale(0.7 1)" x="0" y="0">8</text><text fill="#000" transform="translate(22.08 0) scale(0.51 1)" x="0" y="0">A</text><text fill="#000" transform="translate(27.59 0) scale(0.39 1)" x="0" y="0">W</text><text fill="#000" transform="translate(33.1 0) scale(0.51 1)" x="0" y="0">G</text><text fill="#000" transform="translate(44.11 0) scale(0.51 1)" x="0" y="0">U</text><text fill="#000" transform="translate(49.62 0) scale(0.6 1)" x="0" y="0">L</text><text fill="#000" transform="translate(55.25 0) scale(0.7 1)" x="0" y="0">1</text><text fill="#000" transform="translate(60.76 0) scale(0.7 1)" x="0" y="0">0</text><text fill="#000" transform="translate(66.27 0) scale(0.7 1)" x="0" y="0">1</text><text fill="#000" transform="translate(71.77 0) scale(0.7 1)" x="0" y="0">5</text></g>
<g transform="translate(526.7 80.8)" font-family="Liberation Serif" font-size="14.09" fill="#000" stroke="#000" stroke-width="0.1"><text fill="#000" transform="translate(0.35 0) scale(0.7 1)" x="0" y="0">6</text><text fill="#000" transform="translate(5.98 0) scale(0.7 1)" x="0" y="0">7</text><text fill="#000" transform="translate(16.96 0) scale(0.59 1)" x="0" y="0">R</text><text fill="#000" transform="translate(22.59 0) scale(0.64 1)" x="0" y="0">E</text><text fill="#000" transform="translate(28.24 0) scale(0.7 1)" x="0" y="0">F</text></g>
<g transform="translate(659.7 73)" font-family="Liberation Serif" font-size="14.39" fill="#000" stroke="#000" stroke-width="0.1"><text fill="#000" transform="translate(0.61 0) scale(0.7 1)" x="0" y="0">8</text><text fill="#000" transform="translate(6.88 0) scale(0.7 1)" x="0" y="0">8</text><text fill="#000" transform="translate(12.9 0) scale(0.7 1)" x="0" y="0">±</text><text fill="#000" transform="translate(19.41 0) scale(0.7 1)" x="0" y="0">1</text><text fill="#000" transform="translate(26.94 0) scale(0.7 1)" x="0" y="0">.</text><text fill="#000" transform="translate(31.95 0) scale(0.7 1)" x="0" y="0">0</text></g>
<g transform="translate(476.4 228.1) rotate(-90)" font-family="Liberation Serif" font-size="16.06" fill="#000" stroke="#000" stroke-width="0.1"><text fill="#000" transform="translate(0.06 0) scale(0.68 1)" x="0" y="0">8</text><text fill="#000" transform="translate(5.61 0) scale(0.68 1)" x="0" y="0">4</text><text fill="#000" transform="translate(16.71 0) scale(0.51 1)" x="0" y="0">R</text><text fill="#000" transform="translate(22.26 0) scale(0.55 1)" x="0" y="0">E</text><text fill="#000" transform="translate(27.81 0) scale(0.61 1)" x="0" y="0">F</text></g>
<g transform="translate(622.5 123.8) rotate(90)" font-family="Liberation Serif" font-size="14.39" fill="#000" stroke="#000" stroke-width="0.1"><text fill="#000" transform="translate(0.09 0) scale(0.7 1)" x="0" y="0">L</text><text fill="#000" transform="translate(6.4 0) scale(0.6 1)" x="0" y="0">A</text><text fill="#000" transform="translate(12.74 0) scale(0.65 1)" x="0" y="0">B</text><text fill="#000" transform="translate(19.11 0) scale(0.7 1)" x="0" y="0">E</text><text fill="#000" transform="translate(25.45 0) scale(0.7 1)" x="0" y="0">L</text></g>
<g transform="translate(684.8 184.1) rotate(-90)" font-family="Liberation Serif" font-size="16.82" fill="#000" stroke="#000" stroke-width="0.1"><text fill="#000" transform="translate(0.05 0) scale(0.38 1)" x="0" y="0">Ø</text><text fill="#000" transform="translate(4.8 0) scale(0.55 1)" x="0" y="0">8</text></g>
<rect x="671" y="168" width="6" height="1.5" fill="#000" stroke="none"/>
<g transform="translate(685 172) rotate(-90)" font-family="Liberation Serif" font-size="9.09" fill="#000" stroke="#000" stroke-width="0.1"><text fill="#000" transform="translate(0.4 0) scale(0.7 1)" x="0" y="0">-</text><text fill="#000" transform="translate(2.95 0) scale(0.63 1)" x="0" y="0">0</text><text fill="#000" transform="translate(6.5 0) scale(0.7 1)" x="0" y="0">.</text><text fill="#000" transform="translate(8.79 0) scale(0.63 1)" x="0" y="0">0</text><text fill="#000" transform="translate(11.71 0) scale(0.63 1)" x="0" y="0">2</text></g>
<g transform="translate(720.2 245)" font-family="Liberation Serif" font-size="14.85" fill="#000" stroke="#000" stroke-width="0.1"><text fill="#000" transform="translate(0.14 0) scale(0.7 1)" x="0" y="0">3</text><text fill="#000" transform="translate(5.61 0) scale(0.7 1)" x="0" y="0">2</text><text fill="#000" transform="translate(16.47 0) scale(0.66 1)" x="0" y="0">±</text><text fill="#000" transform="translate(22.02 0) scale(0.7 1)" x="0" y="0">0</text><text fill="#000" transform="translate(28.79 0) scale(0.7 1)" x="0" y="0">.</text><text fill="#000" transform="translate(32.97 0) scale(0.7 1)" x="0" y="0">3</text></g>
<g transform="translate(803.5 276.2) rotate(-90)" font-family="Liberation Serif" font-size="16.21" fill="#000" stroke="#000" stroke-width="0.1"><text fill="#000" transform="translate(0.21 0) scale(0.7 1)" x="0" y="0">7</text><text fill="#000" transform="translate(7.73 0) scale(0.7 1)" x="0" y="0">.</text><text fill="#000" transform="translate(12.41 0) scale(0.7 1)" x="0" y="0">2</text><text fill="#000" transform="translate(18.36 0) scale(0.67 1)" x="0" y="0">±</text><text fill="#000" transform="translate(24.61 0) scale(0.7 1)" x="0" y="0">0</text><text fill="#000" transform="translate(32.13 0) scale(0.7 1)" x="0" y="0">.</text><text fill="#000" transform="translate(36.81 0) scale(0.7 1)" x="0" y="0">1</text><text fill="#000" transform="translate(42.91 0) scale(0.7 1)" x="0" y="0">5</text></g>
<g transform="translate(692.4 300.1) rotate(-90)" font-family="Liberation Serif" font-size="15.45" fill="#000" stroke="#000" stroke-width="0.1"><text fill="#000" transform="translate(0.45 0) scale(0.7 1)" x="0" y="0">2</text><text fill="#000" transform="translate(6.75 0) scale(0.7 1)" x="0" y="0">5</text><text fill="#000" transform="translate(12.78 0) scale(0.7 1)" x="0" y="0">±</text><text fill="#000" transform="translate(19.35 0) scale(0.7 1)" x="0" y="0">1</text><text fill="#000" transform="translate(25.65 0) scale(0.7 1)" x="0" y="0">5</text></g>
<g transform="translate(674.2 439.4) rotate(-90)" font-family="Liberation Serif" font-size="13.18" fill="#000" stroke="#000" stroke-width="0.1"><text fill="#000" transform="translate(0.89 0) scale(0.7 1)" x="0" y="0">2</text><text fill="#000" transform="translate(7.29 0) scale(0.7 1)" x="0" y="0">0</text><text fill="#000" transform="translate(13.69 0) scale(0.7 1)" x="0" y="0">0</text><text fill="#000" transform="translate(19.87 0) scale(0.7 1)" x="0" y="0">±</text><text fill="#000" transform="translate(26.49 0) scale(0.7 1)" x="0" y="0">1</text><text fill="#000" transform="translate(32.89 0) scale(0.7 1)" x="0" y="0">5</text></g>
<g transform="translate(559.5 343.7) rotate(-90)" font-family="Liberation Serif" font-size="8.03" fill="#000" stroke="#000" stroke-width="0.1"><text fill="#000" transform="translate(0.15 0) scale(0.7 1)" x="0" y="0">C</text><text fill="#000" transform="translate(4.08 0) scale(0.68 1)" x="0" y="0">A</text><text fill="#000" transform="translate(8.55 0) scale(0.7 1)" x="0" y="0">P</text><text fill="#000" transform="translate(12.17 0) scale(0.68 1)" x="0" y="0">A</text><text fill="#000" transform="translate(16.33 0) scale(0.7 1)" x="0" y="0">C</text><text fill="#000" transform="translate(21.31 0) scale(0.7 1)" x="0" y="0">I</text><text fill="#000" transform="translate(24.57 0) scale(0.7 1)" x="0" y="0">T</text><text fill="#000" transform="translate(28.35 0) scale(0.68 1)" x="0" y="0">O</text><text fill="#000" transform="translate(32.5 0) scale(0.7 1)" x="0" y="0">R</text></g>
<g transform="translate(1108.6 133)" font-family="Liberation Serif" font-size="13.03" fill="#000" stroke="#000" stroke-width="0.1"><text fill="#000" transform="translate(0.05 0) scale(0.49 1)" x="0" y="0">Ø</text><text fill="#000" transform="translate(4.72 0) scale(0.7 1)" x="0" y="0">9</text><text fill="#000" transform="translate(9.39 0) scale(0.7 1)" x="0" y="0">6</text></g>
</g>
</svg>
</body></html>
